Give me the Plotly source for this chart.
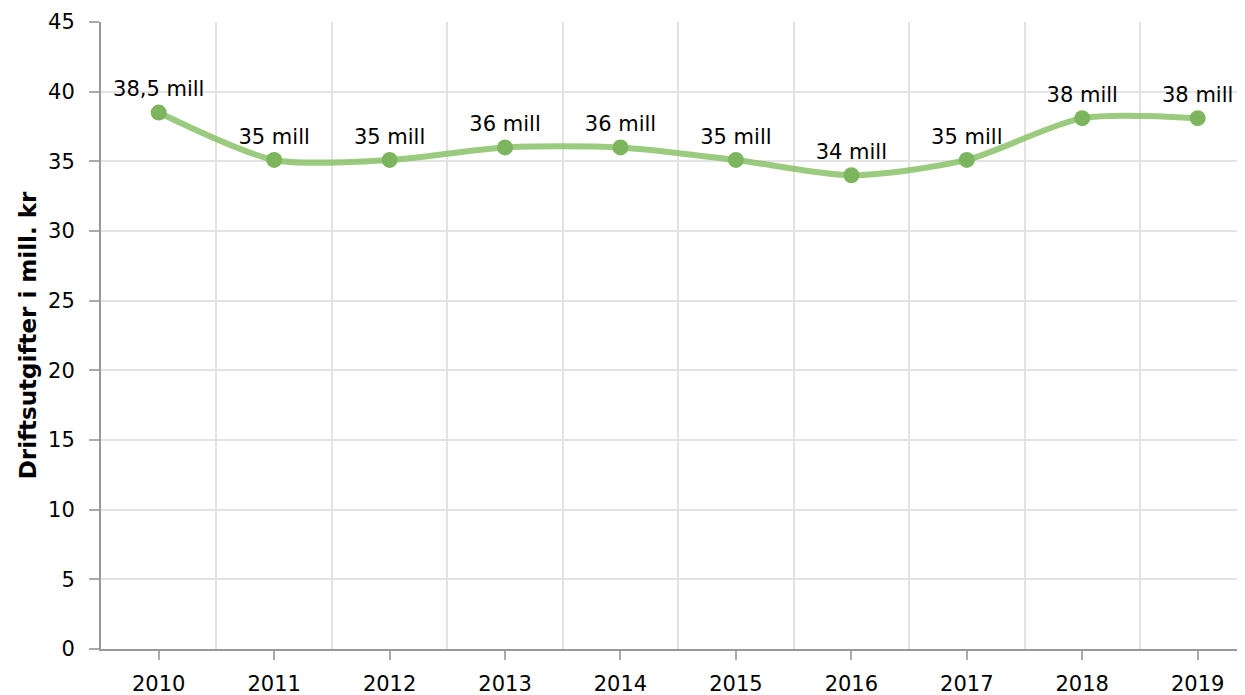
import plotly.graph_objects as go

years = ["2010", "2011", "2012", "2013", "2014", "2015", "2016", "2017", "2018", "2019"]
values = [38.5, 35.1, 35.1, 36.0, 36.0, 35.1, 34.0, 35.1, 38.1, 38.1]
labels = ["38,5 mill", "35 mill", "35 mill", "36 mill", "36 mill", "35 mill", "34 mill", "35 mill", "38 mill", "38 mill"]
y_ticks = [0, 5, 10, 15, 20, 25, 30, 35, 40, 45]

FONT = "Verdana, DejaVu Sans, sans-serif"
FS = 21
xpos = list(range(len(years)))

fig = go.Figure()
fig.add_trace(go.Scatter(
    x=xpos, y=values,
    mode="lines+markers+text",
    line=dict(shape="spline", smoothing=0.75, color="rgba(130,190,95,0.8)", width=6),
    marker=dict(size=16, color="#7db55e"),
    text=labels, textposition="top center",
    textfont=dict(family=FONT, size=FS, color="#000000"),
    cliponaxis=False,
    hoverinfo="skip",
))

fig.update_layout(
    width=1237, height=687,
    margin=dict(l=93, r=0, t=14, b=46),
    paper_bgcolor="white", plot_bgcolor="white",
    showlegend=False,
    font=dict(family=FONT, size=FS, color="#000000"),
)
fig.update_xaxes(
    range=[-0.5, 9.41], automargin=False,
    tickvals=xpos, ticktext=years,
    showgrid=False, zeroline=False,
    showline=True, linecolor="#999999", linewidth=2,
    ticks="outside", ticklen=9, tickcolor="#aaaaaa", tickwidth=2,
    ticklabelstandoff=6,
    tickfont=dict(family=FONT, size=FS, color="#000000"),
    minor=dict(tickvals=[i + 0.5 for i in range(-1, 10)], showgrid=True, gridcolor="#e3e3e3", gridwidth=2, ticks=""),
)
fig.update_yaxes(
    range=[0, 45], tickvals=y_ticks, automargin=False,
    showgrid=True, gridcolor="#e3e3e3", gridwidth=2, zeroline=False,
    showline=True, linecolor="#999999", linewidth=2,
    ticks="outside", ticklen=10, tickcolor="#aaaaaa", tickwidth=2,
    ticklabelstandoff=10,
    tickfont=dict(family=FONT, size=FS, color="#000000"),
    title=dict(text="<b>Driftsutgifter i mill. kr</b>", font=dict(family=FONT, size=23, color="#000000"), standoff=5),
)

fig.write_html("out.html")
